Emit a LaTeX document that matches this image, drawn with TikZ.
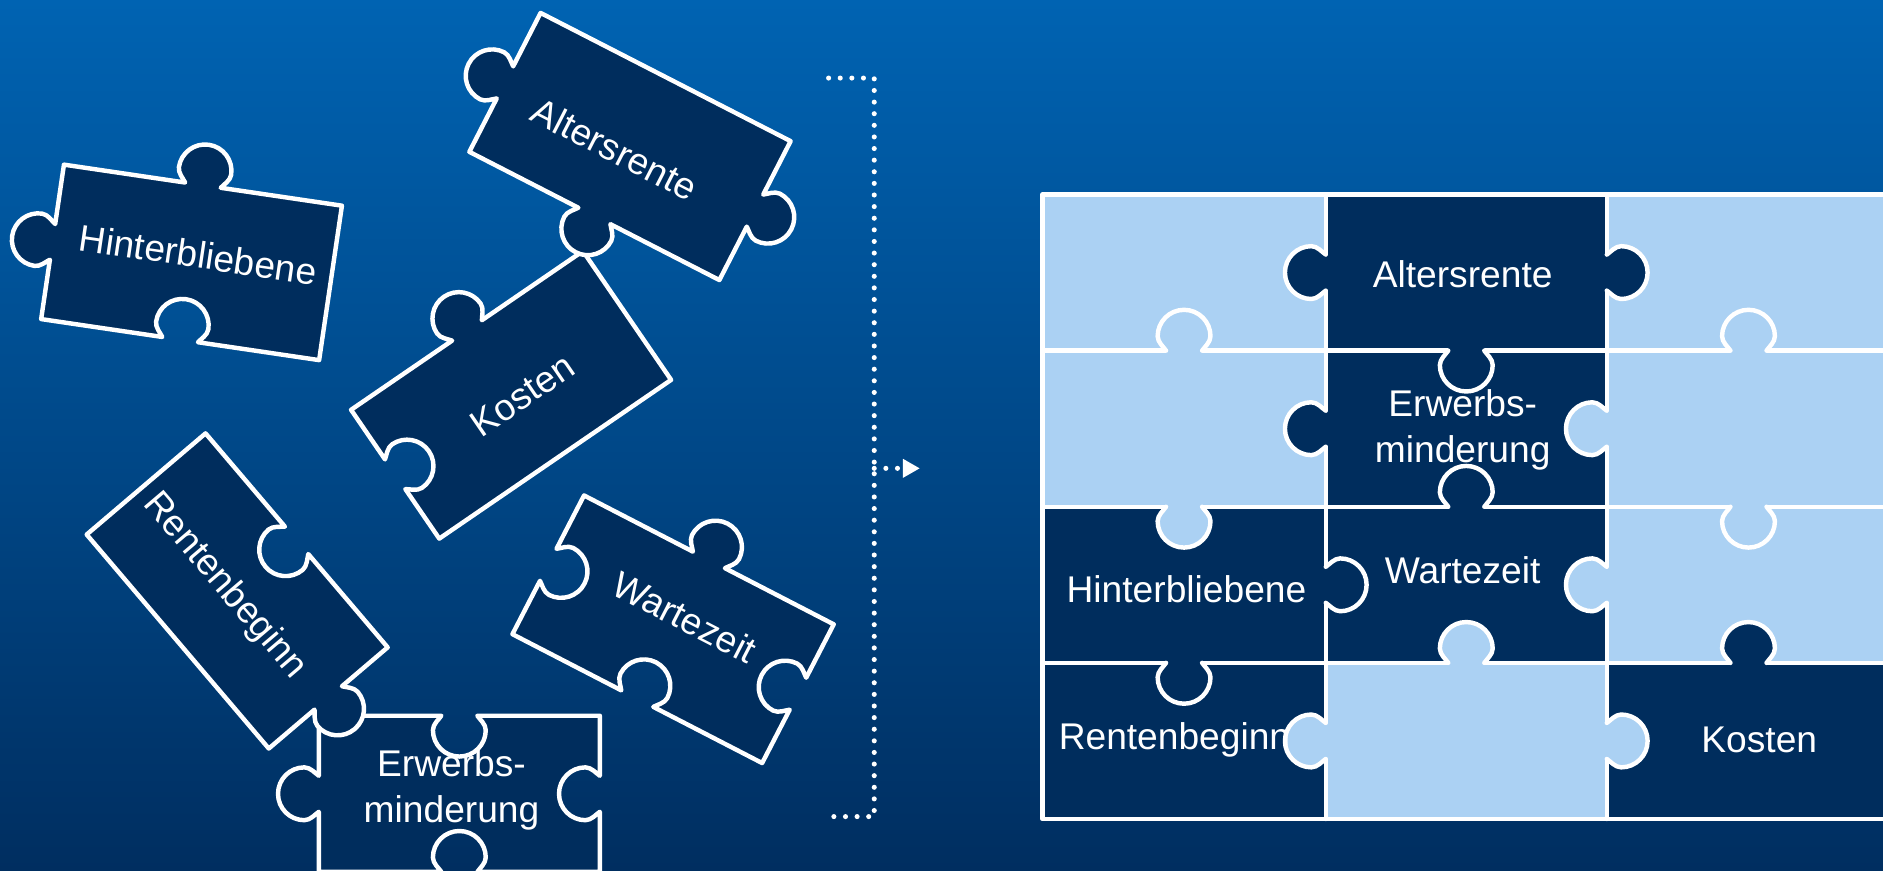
\documentclass[tikz,border=0pt]{standalone}
\usepackage{fontspec}
\setmainfont{Liberation Sans}
\usetikzlibrary{arrows.meta}
\definecolor{bgtop}{RGB}{0,99,178}
\definecolor{bgbot}{RGB}{0,46,96}
\definecolor{navy}{RGB}{0,45,93}
\definecolor{lightb}{RGB}{171,209,243}
% puzzle piece outline in a local frame (234 x 130), args: top, right, bottom, left (1 out, -1 in, 0 flat)
\newcommand\pzpiece[4]{(-117,65) -- (-15,65) .. controls (-17,{65+3*(#1)}) and (-22,{65+7*(#1)}) .. (-22,{65+12*(#1)}) .. controls (-22,{65+24.15*(#1)}) and (-12.15,{65+34*(#1)}) .. (0,{65+34*(#1)}) .. controls (12.15,{65+34*(#1)}) and (22,{65+24.15*(#1)}) .. (22,{65+12*(#1)}) .. controls (22,{65+7*(#1)}) and (17,{65+3*(#1)}) .. (15,65) -- (117,65)
 -- (117,15) .. controls ({117+3*(#2)},17) and ({117+7*(#2)},22) .. ({117+12*(#2)},22) .. controls ({117+24.15*(#2)},22) and ({117+34*(#2)},12.15) .. ({117+34*(#2)},0) .. controls ({117+34*(#2)},-12.15) and ({117+24.15*(#2)},-22) .. ({117+12*(#2)},-22) .. controls ({117+7*(#2)},-22) and ({117+3*(#2)},-17) .. (117,-15) -- (117,-65)
 -- (15,-65) .. controls (17,{-65-3*(#3)}) and (22,{-65-7*(#3)}) .. (22,{-65-12*(#3)}) .. controls (22,{-65-24.15*(#3)}) and (12.15,{-65-34*(#3)}) .. (0,{-65-34*(#3)}) .. controls (-12.15,{-65-34*(#3)}) and (-22,{-65-24.15*(#3)}) .. (-22,{-65-12*(#3)}) .. controls (-22,{-65-7*(#3)}) and (-17,{-65-3*(#3)}) .. (-15,-65) -- (-117,-65)
 -- (-117,-15) .. controls ({-117-3*(#4)},-17) and ({-117-7*(#4)},-22) .. ({-117-12*(#4)},-22) .. controls ({-117-24.15*(#4)},-22) and ({-117-34*(#4)},-12.15) .. ({-117-34*(#4)},0) .. controls ({-117-34*(#4)},12.15) and ({-117-24.15*(#4)},22) .. ({-117-12*(#4)},22) .. controls ({-117-7*(#4)},22) and ({-117-3*(#4)},17) .. (-117,15) -- cycle}
% board knob: x, y, rotation (0 up, 180 down, 90 left, -90 right), fill colour
\newcommand\bknobcurve{(-15,0) .. controls (-17,3) and (-22,7) .. (-22,12) .. controls (-22,24.15) and (-12.15,34) .. (0,34) .. controls (12.15,34) and (22,24.15) .. (22,12) .. controls (22,7) and (17,3) .. (15,0)}
\newcommand\bknob[4]{%
 \fill[#4,shift={(#1,#2)},rotate=#3] (-15,-4) -- \bknobcurve -- (15,-4) -- cycle;
 \draw[edge,shift={(#1,#2)},rotate=#3] \bknobcurve;}
\begin{document}
\begin{tikzpicture}[x=0.01cm,y=0.01cm,
  edge/.style={draw=white,line width=1.05pt,line join=round,line cap=round},
  piecebox/.style={fill=navy,draw=white,line width=1.05pt,line join=round},
  txt/.style={text=white,font=\fontsize{8.8}{10.8}\selectfont,align=center,inner sep=0pt},
  dots/.style={white,line width=1.2pt,line cap=round,dash pattern=on 0pt off 2.75pt}]
\useasboundingbox (0,0) rectangle (1568,-725);
\shade[top color=bgtop,bottom color=bgbot] (0,0) rectangle (1568,-725);
% ---------- loose pieces ----------
\draw[piecebox,shift={(159.5,-218.5)},rotate=-8.4] \pzpiece{1}{0}{-1}{1};
\node[txt,rotate=-8.4] (lhin) at (165,-212) {Hinterbliebene};
\draw[piecebox,shift={(425.6,-328.8)},rotate=34.4] \pzpiece{1}{0}{0}{-1};
\node[txt,rotate=34.4] (lkos) at (435,-329) {Kosten};
\draw[piecebox,shift={(524.6,-122)},rotate=-27.15] \pzpiece{0}{1}{1}{1};
\node[txt,rotate=-27.15] (lalt) at (512,-124) {Altersrente};
\draw[piecebox,shift={(560.5,-524)},rotate=-27.3] \pzpiece{1}{-1}{-1}{-1};
\node[txt,rotate=-27.3] (lwar) at (570,-514) {Wartezeit};
\draw[piecebox,shift={(382.5,-661)},rotate=0] \pzpiece{-1}{-1}{-1}{1};
\node[txt] (lerw) at (376,-658) {Erwerbs-\\minderung};
\draw[piecebox,shift={(197.5,-492.1)},rotate=-49.6] \pzpiece{-1}{1}{0}{0};
\node[txt,rotate=-49.6] (lren) at (187,-488) {Rentenbeginn};
% ---------- bracket and arrow ----------
\coordinate (bt0) at (690,-65);
\coordinate (bt1) at (728,-65);
\coordinate (bb1) at (728,-680);
\coordinate (bb0) at (690,-680);
\coordinate (am) at (728,-390);
\coordinate (ae) at (766,-390);
\draw[dots] (bt0) -- (bt1) -- (bb1) -- (bb0);
\draw[dots,-{Triangle[length=4pt,width=4.2pt]}] (am) -- (ae);
% ---------- assembled board ----------
\fill[lightb] (868,-162) rectangle (1580,-682);
\fill[navy] (1104,-162) rectangle (1338,-422);
\fill[navy] (868,-422) rectangle (1338,-552);
\fill[navy] (868,-552) rectangle (1104,-682);
\fill[navy] (1338,-552) rectangle (1580,-682);
\draw[edge] (868,-162) rectangle (1585,-682);
\foreach \yy in {-292,-422,-552} \draw[edge] (868,\yy) -- (1585,\yy);
\foreach \xx in {1104,1338} \draw[edge] (\xx,-162) -- (\xx,-682);
\bknob{1104}{-227}{90}{navy}
\bknob{1338}{-227}{-90}{navy}
\bknob{986}{-292}{0}{lightb}
\bknob{1221}{-292}{180}{navy}
\bknob{1456}{-292}{0}{lightb}
\bknob{1104}{-357}{90}{navy}
\bknob{1338}{-357}{90}{lightb}
\bknob{986}{-422}{180}{lightb}
\bknob{1221}{-422}{0}{navy}
\bknob{1456}{-422}{180}{lightb}
\bknob{1104}{-487}{-90}{navy}
\bknob{1338}{-487}{90}{lightb}
\bknob{986}{-552}{180}{navy}
\bknob{1221}{-552}{0}{lightb}
\bknob{1456}{-552}{0}{navy}
\bknob{1104}{-617}{90}{lightb}
\bknob{1338}{-617}{-90}{lightb}
\node[txt] (ralt) at (1218,-228) {Altersrente};
\node[txt] (rerw) at (1218,-358) {Erwerbs-\\minderung};
\node[txt] (rhin) at (988,-491) {Hinterbliebene};
\node[txt] (rwar) at (1218,-475) {Wartezeit};
\node[txt] (rren) at (978,-616) {Rentenbeginn};
\node[txt] (rkos) at (1465,-616) {Kosten};
\end{tikzpicture}
\end{document}
